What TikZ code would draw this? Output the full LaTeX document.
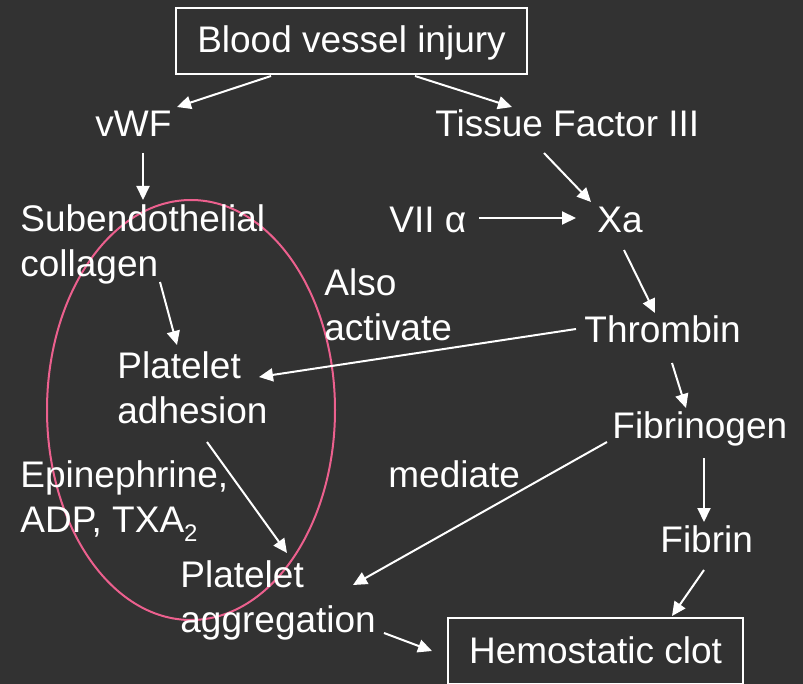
\documentclass[tikz,border=0pt]{standalone}
\usepackage{fontspec}
\setmainfont{Liberation Sans}
\usepackage{tikz}
\usetikzlibrary{arrows.meta, calc}
\definecolor{slidebg}{RGB}{50,50,50}
\definecolor{ringpink}{RGB}{236,96,142}
\newcommand{\lowsub}[1]{\raisebox{-4.5pt}{\fontsize{12}{12}\selectfont #1}}
\tikzset{
  % Text stages
  stage/.style={anchor=base west, inner sep=0pt, align=left, text=white,
    font=\fontsize{18.5}{22.5}\selectfont},
  % Boxed stages
  boxstage/.style={draw=white, line width=1pt, inner sep=0pt, text=white,
    text height=13.5pt, text depth=1.5pt,
    font=\fontsize{18.5}{22.5}\selectfont},
  % Pointers
  flowpointer/.style={-{Triangle[length=7pt, width=6.5pt]}, line width=1pt, draw=white},
}

\begin{document}
\begin{tikzpicture}[x=0.5pt, y=-0.5pt]

  \fill[slidebg] (0,0) rectangle (803,684);
  \useasboundingbox (0,0) rectangle (803,684);

  % Platelet ring
  \draw[ringpink, line width=1pt] (191,410) ellipse [x radius=144, y radius=210];

  % Define flow nodes (two-line stages sit on their last line)
  \node[boxstage, minimum width=175.5pt, minimum height=33pt] (injury) at (351.5,41) {Blood vessel injury};
  \node[stage] (vwf) at (95,137) {vWF};
  \node[stage] (tissue) at (435,137) {Tissue Factor III};
  \node[stage] (subendo) at (20,277) {Subendothelial\\collagen};
  \node[stage] (viia) at (389,233) {VII α};
  \node[stage] (xa) at (597,233) {Xa};
  \node[stage] (also) at (324,340) {Also\\activate};
  \node[stage] (thrombin) at (584,343) {Thrombin};
  \node[stage] (adhesion) at (117,423) {Platelet\\adhesion};
  \node[stage] (fibrinogen) at (612,438) {Fibrinogen};
  \node[stage] (epi) at (20,532) {Epinephrine,\\ADP, TXA\lowsub{2}};
  \node[stage] (mediate) at (388,487) {mediate};
  \node[stage] (fibrin) at (660,552) {Fibrin};
  \node[stage] (aggregation) at (180,632) {Platelet\\aggregation};
  \node[boxstage, minimum width=147.5pt, minimum height=33pt] (clot) at (595.5,651) {Hemostatic clot};

  \draw[flowpointer] ($(injury.south)+(-80.5,1)$) -- ($(vwf.base west)+(82,-30)$);
  \draw[flowpointer] ($(injury.south)+(63.5,1)$) -- ($(tissue.base west)+(77,-30)$);
  \draw[flowpointer] ($(vwf.base west)+(48,16)$) -- ($(subendo.base west)+(123,-77)$);
  \draw[flowpointer] ($(tissue.base west)+(109,16)$) -- ($(xa.base west)+(-6,-31)$);
  \draw[flowpointer] ($(viia.base west)+(90,-15)$) -- ($(xa.base west)+(-21,-15)$);
  \draw[flowpointer] ($(xa.base west)+(27,17)$) -- ($(thrombin.base west)+(71,-30)$);
  \draw[flowpointer] ($(subendo.base west)+(140,5)$) -- ($(adhesion.base west)+(60,-78)$);
  \draw[flowpointer] ($(thrombin.base west)+(-8,-14)$) -- ($(adhesion.base west)+(142,-46)$);
  \draw[flowpointer] ($(thrombin.base west)+(88,20)$) -- ($(fibrinogen.base west)+(74,-30)$);
  \draw[flowpointer] ($(adhesion.base west)+(90,19)$) -- ($(aggregation.base west)+(107,-79)$);
  \draw[flowpointer] ($(fibrinogen.base west)+(-5,4)$) -- ($(aggregation.base west)+(173,-47)$);
  \draw[flowpointer] ($(fibrinogen.base west)+(92,20)$) -- ($(fibrin.base west)+(44,-30)$);
  \draw[flowpointer] ($(fibrin.base west)+(44,18)$) -- ($(clot.north)+(76.5,-1)$);
  \draw[flowpointer] ($(aggregation.base west)+(204,1)$) -- ($(clot.west)+(-15,0)$);

\end{tikzpicture}
\end{document}
